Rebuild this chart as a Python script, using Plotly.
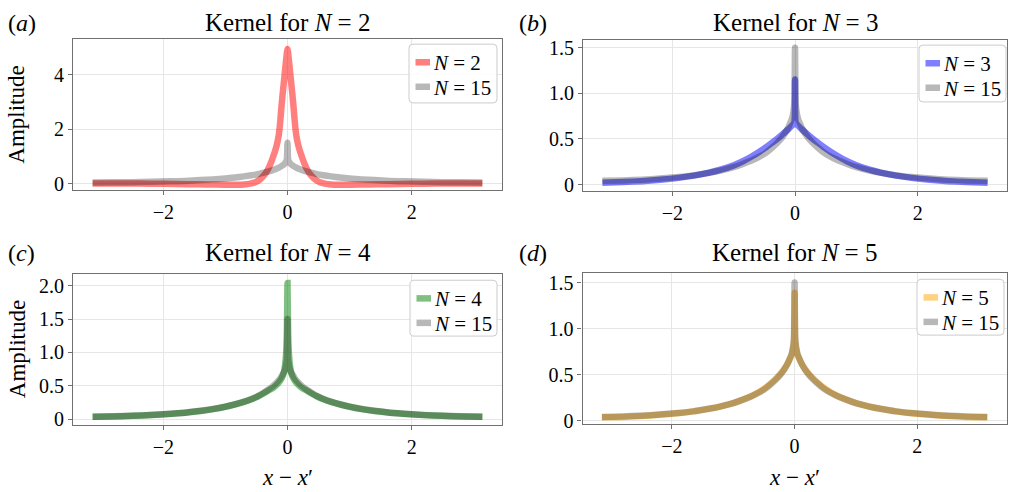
import plotly.graph_objects as go

# Sample positions x - x' (radians) shared by the N = 3, 4, 5, 15 kernels
x_vals = [-3.14, -2.8, -2.5, -2.2, -1.9, -1.65, -1.4, -1.2, -1.0, -0.85, -0.7, -0.58,
          -0.47, -0.38, -0.3, -0.23, -0.17, -0.12, -0.08, -0.05, -0.025, -0.01, 0.0,
          0.01, 0.025, 0.05, 0.08, 0.12, 0.17, 0.23, 0.3, 0.38, 0.47, 0.58, 0.7, 0.85,
          1.0, 1.2, 1.4, 1.65, 1.9, 2.2, 2.5, 2.8, 3.14]

# Sample positions for the N = 2 kernel (denser around the central peak)
x_n2 = [-3.14, -2.8, -2.4, -2.0, -1.6, -1.3, -1.0, -0.85, -0.7, -0.6, -0.52, -0.45,
        -0.38, -0.32, -0.27, -0.23, -0.2, -0.17, -0.14, -0.12, -0.1, -0.08, -0.06,
        -0.04, -0.02, 0.0, 0.02, 0.04, 0.06, 0.08, 0.1, 0.12, 0.14, 0.17, 0.2, 0.23,
        0.27, 0.32, 0.38, 0.45, 0.52, 0.6, 0.7, 0.85, 1.0, 1.3, 1.6, 2.0, 2.4, 2.8, 3.14]

# Kernel amplitudes for each truncation order N
k_n2 = [0.0, 0.0, 0.0, -0.01, -0.02, -0.03, -0.04, -0.04, -0.03, 0.0, 0.05, 0.14,
        0.3, 0.5, 0.75, 1.0, 1.2, 1.45, 1.8, 2.2, 2.75, 3.25, 3.7,
        4.15, 4.6, 4.95, 4.6, 4.15, 3.7, 3.25, 2.75, 2.2, 1.8, 1.45, 1.2, 1.0,
        0.75, 0.5, 0.3, 0.14, 0.05, 0.0, -0.03, -0.04, -0.04, -0.03, -0.02, -0.01, 0.0, 0.0, 0.0]
k_n3 = [0.02, 0.027, 0.037, 0.052, 0.073, 0.097, 0.13, 0.165, 0.21, 0.255, 0.31, 0.36,
        0.41, 0.455, 0.495, 0.535, 0.57, 0.6, 0.625, 0.645, 0.665, 0.68, 1.15,
        0.68, 0.665, 0.645, 0.625, 0.6, 0.57, 0.535, 0.495, 0.455, 0.41, 0.36, 0.31, 0.255,
        0.21, 0.165, 0.13, 0.097, 0.073, 0.052, 0.037, 0.027, 0.02]
k_n4 = [0.038, 0.043, 0.052, 0.063, 0.08, 0.1, 0.126, 0.153, 0.188, 0.222, 0.262, 0.3,
        0.345, 0.39, 0.435, 0.47, 0.52, 0.575, 0.64, 0.74, 0.95, 1.3, 2.04,
        1.3, 0.95, 0.74, 0.64, 0.575, 0.52, 0.47, 0.435, 0.39, 0.345, 0.3, 0.262, 0.222,
        0.188, 0.153, 0.126, 0.1, 0.08, 0.063, 0.052, 0.043, 0.038]
k_n5 = [0.035, 0.04, 0.05, 0.063, 0.08, 0.1, 0.127, 0.155, 0.19, 0.226, 0.268, 0.31,
        0.36, 0.41, 0.46, 0.51, 0.56, 0.615, 0.665, 0.71, 0.78, 0.86, 1.39,
        0.86, 0.78, 0.71, 0.665, 0.615, 0.56, 0.51, 0.46, 0.41, 0.36, 0.31, 0.268, 0.226,
        0.19, 0.155, 0.127, 0.1, 0.08, 0.063, 0.05, 0.04, 0.035]
k_n15 = [0.04, 0.045, 0.053, 0.065, 0.082, 0.1, 0.128, 0.155, 0.19, 0.225, 0.265, 0.305,
         0.35, 0.4, 0.45, 0.5, 0.555, 0.61, 0.67, 0.72, 0.8, 0.9, 1.5,
         0.9, 0.8, 0.72, 0.67, 0.61, 0.555, 0.5, 0.45, 0.4, 0.35, 0.305, 0.265, 0.225,
         0.19, 0.155, 0.128, 0.1, 0.082, 0.065, 0.053, 0.045, 0.04]

panel_orders = [2, 3, 4, 5]
panel_x = [x_n2, x_vals, x_vals, x_vals]
panel_series = [k_n2, k_n3, k_n4, k_n5]
panel_colors = ["rgba(255,0,0,0.5)", "rgba(0,0,255,0.5)",
                "rgba(0,128,0,0.5)", "rgba(255,165,0,0.5)"]
panel_tags = ["a", "b", "c", "d"]
y_ranges = [[-0.24, 5.31], [-0.069, 1.585], [-0.078, 2.175], [-0.04, 1.6]]
y_ticks = [[0, 2, 4], [0, 0.5, 1.0, 1.5], [0, 0.5, 1.0, 1.5, 2.0], [0, 0.5, 1.0, 1.5]]
y_ticktext = [["0", "2", "4"], ["0", "0.5", "1.0", "1.5"],
              ["0", "0.5", "1.0", "1.5", "2.0"], ["0", "0.5", "1.0", "1.5"]]
x_ticks = [-2, 0, 2]
x_ticktext = ["\u22122", "0", "2"]
ref_order = 15

REF_COLOR = "rgba(0,0,0,0.28)"
FONT = "Liberation Serif, Times New Roman, serif"
W, H = 1011, 492
LINE_W = 6.5

# Plot-area boxes in pixels: (left, right, top, bottom)
boxes = [(73, 502, 37, 191), (583, 1007, 37.7, 191.7),
         (73, 502, 276.5, 430.3), (582.5, 1006.7, 276, 430)]
# Legend frames in pixels: (left, top, right, bottom)
legend_boxes = [(409, 42, 497, 102), (919, 43, 1006, 101),
                (410, 283, 497, 340), (917, 282, 1004, 339)]


def px(x):
    return x / W


def py(y):
    return 1 - y / H


def rounded_rect(l, t, r, b, rad=4):
    pts = [
        "M %f,%f" % (px(l + rad), py(t)),
        "L %f,%f" % (px(r - rad), py(t)),
        "Q %f,%f %f,%f" % (px(r), py(t), px(r), py(t + rad)),
        "L %f,%f" % (px(r), py(b - rad)),
        "Q %f,%f %f,%f" % (px(r), py(b), px(r - rad), py(b)),
        "L %f,%f" % (px(l + rad), py(b)),
        "Q %f,%f %f,%f" % (px(l), py(b), px(l), py(b - rad)),
        "L %f,%f" % (px(l), py(t + rad)),
        "Q %f,%f %f,%f" % (px(l), py(t), px(l + rad), py(t)),
        "Z",
    ]
    return " ".join(pts)


fig = go.Figure()
annotations = []
shapes = []
layout = dict(
    width=W, height=H,
    margin=dict(l=0, r=0, t=0, b=0),
    paper_bgcolor="white", plot_bgcolor="white",
    font=dict(family=FONT, size=20, color="black"),
    showlegend=False,
)

for i in range(4):
    sfx = "" if i == 0 else str(i + 1)
    fig.add_trace(go.Scatter(
        x=panel_x[i], y=panel_series[i], mode="lines",
        line=dict(color=panel_colors[i], width=LINE_W, shape="spline", smoothing=0.6),
        name="N = %d" % panel_orders[i],
        xaxis="x" + sfx, yaxis="y" + sfx, hoverinfo="skip"))
    fig.add_trace(go.Scatter(
        x=x_vals, y=k_n15, mode="lines",
        line=dict(color=REF_COLOR, width=LINE_W, shape="spline", smoothing=0.6),
        name="N = %d" % ref_order,
        xaxis="x" + sfx, yaxis="y" + sfx, hoverinfo="skip"))

    l, r, t, b = boxes[i]
    axis_common = dict(
        showline=True, mirror=True, linecolor="#707070", linewidth=1.2,
        showgrid=True, gridcolor="#e6e6e6", gridwidth=1,
        ticks="outside", ticklen=4, tickcolor="#707070",
        tickfont=dict(family=FONT, size=20, color="black"),
        zeroline=False, fixedrange=True,
    )
    layout["xaxis" + sfx] = dict(
        axis_common, domain=[l / W, r / W], range=[-3.456, 3.456],
        tickmode="array", tickvals=x_ticks, ticktext=x_ticktext,
        anchor="y" + sfx)
    layout["yaxis" + sfx] = dict(
        axis_common, domain=[1 - b / H, 1 - t / H], range=y_ranges[i],
        tickmode="array", tickvals=y_ticks[i], ticktext=y_ticktext[i],
        anchor="x" + sfx)

    # legend frame, swatches and labels
    gl, gt, gr, gb = legend_boxes[i]
    shapes.append(dict(
        type="path", xref="paper", yref="paper",
        path=rounded_rect(gl, gt, gr, gb),
        fillcolor="rgba(255,255,255,0.85)", line=dict(color="#cccccc", width=1),
        layer="above"))
    entries = [(panel_colors[i], panel_orders[i]), (REF_COLOR, ref_order)]
    for j, (col, order) in enumerate(entries):
        ey = gt + 18.5 + j * 25
        shapes.append(dict(
            type="line", xref="paper", yref="paper",
            x0=px(gl + 6.5), x1=px(gl + 21), y0=py(ey), y1=py(ey),
            line=dict(color=col, width=LINE_W), layer="above"))
        annotations.append(dict(
            text="<i>N</i> = %d" % order,
            x=px(gl + 22), y=py(ey + 1), xref="paper", yref="paper",
            xanchor="left", yanchor="middle", showarrow=False,
            font=dict(family=FONT, size=21, color="black")))

    # subplot title
    cx = (l + r) / 2
    title_y = 20 if i < 2 else 255
    annotations.append(dict(
        text="Kernel for <i>N</i> = %d" % panel_orders[i],
        x=px(cx), y=py(title_y), xref="paper", yref="paper",
        xanchor="center", yanchor="middle", showarrow=False,
        font=dict(family=FONT, size=25, color="black")))
    # panel tag
    tag_x = 6 if i in (0, 2) else 517
    annotations.append(dict(
        text="(<i>%s</i>)" % panel_tags[i],
        x=px(tag_x), y=py(title_y), xref="paper", yref="paper",
        xanchor="left", yanchor="middle", showarrow=False,
        font=dict(family=FONT, size=24, color="black")))

# shared axis labels
for i in (0, 2):
    l, r, t, b = boxes[i]
    annotations.append(dict(
        text="Amplitude", textangle=-90,
        x=px(17), y=py((t + b) / 2), xref="paper", yref="paper",
        xanchor="center", yanchor="middle", showarrow=False,
        font=dict(family=FONT, size=23, color="black")))
for i in (2, 3):
    l, r, t, b = boxes[i]
    annotations.append(dict(
        text="<i>x</i> \u2212 <i>x</i>\u2032",
        x=px((l + r) / 2), y=py(484), xref="paper", yref="paper",
        xanchor="center", yanchor="middle", showarrow=False,
        font=dict(family=FONT, size=23, color="black")))

layout["annotations"] = annotations
layout["shapes"] = shapes
fig.update_layout(**layout)
fig.write_html("out.html")
